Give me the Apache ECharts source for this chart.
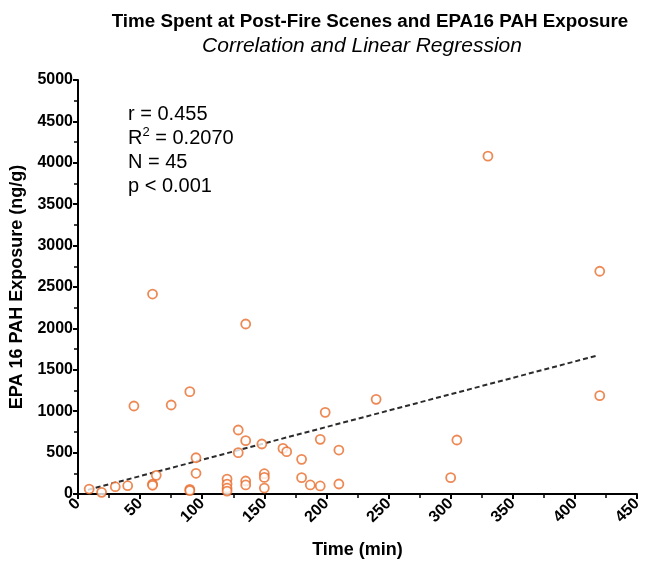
<!DOCTYPE html>
<html>
<head>
<meta charset="utf-8">
<script src="https://cdn.jsdelivr.net/npm/echarts@6/dist/echarts.min.js"></script>
<style>
  html, body { margin: 0; padding: 0; background: #fff; }
  #main { width: 650px; height: 564px; }
</style>
</head>
<body>
<div id="main"></div>
<script>
var chart = echarts.init(document.getElementById('main'));

// time at post-fire scenes (min)
var timeMin = [9, 19, 30, 40, 45, 60, 60, 60, 63, 75,
               90, 90, 90, 95, 95, 120, 120, 120, 120, 129,
               129, 135, 135, 135, 135, 148, 150, 150, 150, 165,
               168, 180, 180, 187, 195, 195, 199, 210, 210, 240,
               300, 305, 330, 420, 420];
// EPA16 PAH exposure (ng/g)
var pahExposure = [60, 20, 88, 100, 1063, 2415, 120, 105, 225, 1075,
                   1236, 57, 40, 438, 250, 180, 120, 70, 35, 773,
                   499, 2053, 644, 157, 109, 604, 245, 200, 72, 551,
                   511, 419, 197, 109, 97, 660, 986, 531, 121, 1143,
                   197, 652, 4080, 2690, 1188];
// fitted line end points
var fitX = [8, 418];
var fitY = [50, 1672];

var statLines = ['r = 0.455', 'R{sup|2} = 0.2070', 'N = 45', 'p < 0.001'];

var points = [];
for (var i = 0; i < timeMin.length; i++) {
    points.push([timeMin[i], pahExposure[i]]);
}
var fitLine = [[fitX[0], fitY[0]], [fitX[1], fitY[1]]];

var FONT = 'Liberation Sans, Arial, sans-serif';
var axisFont = {
    color: '#000',
    fontFamily: FONT,
    fontWeight: 'bold',
    fontSize: 16
};
var nameFont = {
    color: '#000',
    fontFamily: FONT,
    fontWeight: 'bold',
    fontSize: 18
};

chart.setOption({
    backgroundColor: '#fff',
    title: [{
        text: 'Time Spent at Post-Fire Scenes and EPA16 PAH Exposure',
        left: 365,
        top: 7,
        textAlign: 'center',
        textStyle: { color: '#000', fontFamily: FONT, fontWeight: 'bold', fontSize: 18.8 }
    }, {
        text: 'Correlation and Linear Regression',
        left: 357,
        top: 31,
        textAlign: 'center',
        textStyle: { color: '#000', fontFamily: FONT, fontWeight: 'normal', fontStyle: 'italic', fontSize: 21 }
    }],
    grid: {
        left: 78,
        right: 13,
        top: 80,
        bottom: 70
    },
    xAxis: {
        type: 'value',
        min: 0,
        max: 450,
        interval: 50,
        name: 'Time (min)',
        nameLocation: 'middle',
        nameGap: 47,
        nameTextStyle: nameFont,
        splitLine: { show: false },
        axisLine: { lineStyle: { color: '#000', width: 2 } },
        axisTick: { length: 5, lineStyle: { color: '#000', width: 2 } },
        minorTick: { show: true, splitNumber: 2, length: 4, lineStyle: { color: '#000', width: 1.5 } },
        axisLabel: Object.assign({ rotate: 45, margin: 7 }, axisFont)
    },
    yAxis: {
        type: 'value',
        min: 0,
        max: 5000,
        interval: 500,
        name: 'EPA 16 PAH Exposure (ng/g)',
        nameLocation: 'middle',
        nameGap: 47,
        nameTextStyle: nameFont,
        splitLine: { show: false },
        axisLine: { show: true, lineStyle: { color: '#000', width: 2 } },
        axisTick: { show: true, length: 5, lineStyle: { color: '#000', width: 2 } },
        minorTick: { show: true, splitNumber: 2, length: 4, lineStyle: { color: '#000', width: 1.5 } },
        axisLabel: Object.assign({ margin: 5, formatter: function (v) { return String(v); } }, axisFont)
    },
    graphic: [{
        type: 'text',
        left: 128,
        top: 102,
        style: {
            text: statLines.join('\n'),
            fill: '#000',
            font: '20px Liberation Sans, Arial, sans-serif',
            lineHeight: 24,
            rich: {
                sup: {
                    fontSize: 13,
                    verticalAlign: 'top',
                    lineHeight: 24,
                    padding: [0, 0, 9, 0]
                }
            }
        }
    }],
    series: [{
        type: 'line',
        data: fitLine,
        symbol: 'none',
        silent: true,
        lineStyle: { color: '#2b2b2b', width: 2, type: [5, 3] },
        z: 1
    }, {
        type: 'scatter',
        data: points,
        symbol: 'circle',
        symbolSize: 9,
        itemStyle: {
            color: '#fff',
            borderColor: '#E96B2B',
            borderWidth: 1.8
        },
        z: 3
    }]
});
</script>
</body>
</html>
